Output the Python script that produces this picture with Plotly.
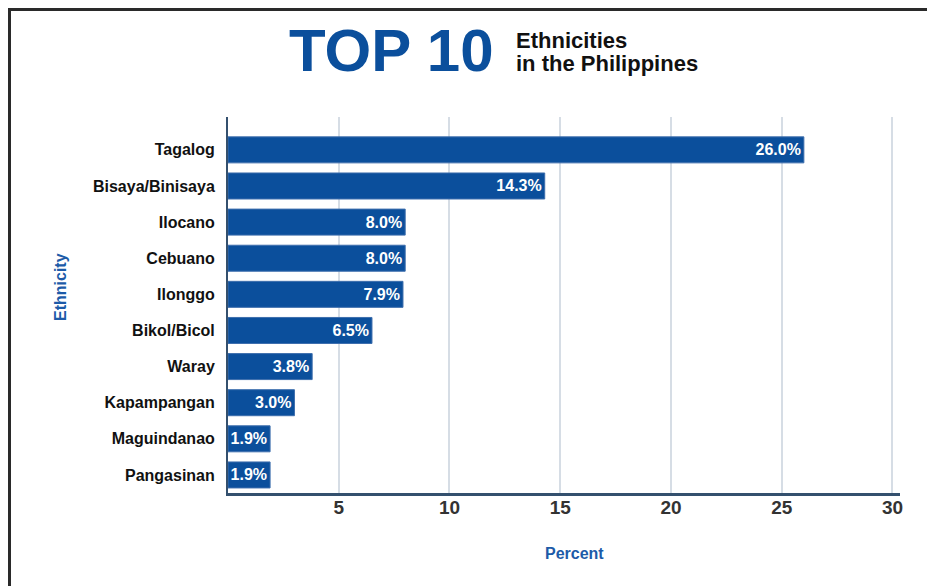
import plotly.graph_objects as go

# Data
ethnicities = ["Tagalog", "Bisaya/Binisaya", "Ilocano", "Cebuano", "Ilonggo",
               "Bikol/Bicol", "Waray", "Kapampangan", "Maguindanao", "Pangasinan"]
percents = [26.0, 14.3, 8.0, 8.0, 7.9, 6.5, 3.8, 3.0, 1.9, 1.9]
x_ticks = [5, 10, 15, 20, 25, 30]

W, H = 935, 586
OFF = 8  # page body offset of the rendered figure
# plot area in screenshot pixels
SL, SR, ST, SB = 228, 900, 117, 493
L = SL - OFF
T = ST - OFF
PW = SR - SL
PH = SB - ST
R = W - L - PW
B = H - T - PH

def px_x(x):
    return (x - SL) / PW

def px_y(y):
    return (SB - y) / PH

FONT = "Liberation Sans"
BLUE = "#0b4f9c"

fig = go.Figure(go.Bar(
    x=percents,
    y=ethnicities,
    orientation="h",
    marker=dict(color=BLUE, line=dict(color="#3d6ead", width=1)),
    texttemplate="%{x:.1f}%",
    textposition="inside",
    insidetextanchor="end",
    textfont=dict(family=FONT, size=16, color="white", weight="bold"),
    cliponaxis=False,
))

fig.update_layout(
    width=W, height=H,
    margin=dict(l=L, r=R, t=T, b=B, pad=0),
    paper_bgcolor="white", plot_bgcolor="white",
    bargap=0.28,
    showlegend=False,
    uniformtext=dict(minsize=16, mode="show"),
    xaxis=dict(
        range=[0, 30.34],
        tickvals=x_ticks,
        ticktext=[str(v) for v in x_ticks],
        showgrid=True, gridcolor="#d6dde5", gridwidth=2,
        zeroline=False,
        showline=True, linecolor="#34506e", linewidth=3,
        ticks="",
        tickfont=dict(family=FONT, size=19, color="#333333", weight="bold"),
        ticklabelstandoff=-5,
    ),
    yaxis=dict(
        categoryorder="array",
        categoryarray=ethnicities[::-1],
        range=[-0.5, 9.91],
        showgrid=False, zeroline=False,
        showline=True, linecolor="#34506e", linewidth=2,
        ticks="",
        tickfont=dict(family=FONT, size=16, color="#111111", weight="bold"),
        ticklabelstandoff=8,
    ),
    shapes=[dict(
        type="rect", xref="paper", yref="paper",
        x0=px_x(9.5), x1=px_x(960), y0=px_y(620), y1=px_y(9.5),
        line=dict(color="#2a2a2a", width=3), fillcolor="rgba(0,0,0,0)",
        layer="above",
    )],
    annotations=[
        dict(text="<b>TOP 10</b>", xref="paper", yref="paper",
             x=px_x(391), y=px_y(50), xanchor="center", yanchor="middle",
             showarrow=False, font=dict(family=FONT, size=60, color=BLUE)),
        dict(text="<b>Ethnicities</b>", xref="paper", yref="paper",
             x=px_x(514), y=px_y(40), xanchor="left", yanchor="middle",
             showarrow=False, font=dict(family=FONT, size=22, color="#111111")),
        dict(text="<b>in the Philippines</b>", xref="paper", yref="paper",
             x=px_x(514), y=px_y(63), xanchor="left", yanchor="middle",
             showarrow=False, font=dict(family=FONT, size=22, color="#111111")),
        dict(text="<b>Ethnicity</b>", xref="paper", yref="paper",
             x=px_x(60), y=px_y(287), xanchor="center", yanchor="middle",
             textangle=-90, showarrow=False,
             font=dict(family=FONT, size=16, color="#1d5ba8")),
        dict(text="<b>Percent</b>", xref="paper", yref="paper",
             x=px_x(574), y=px_y(553), xanchor="center", yanchor="middle",
             showarrow=False, font=dict(family=FONT, size=16, color="#1d5ba8")),
    ],
)

fig.write_html("out.html")
